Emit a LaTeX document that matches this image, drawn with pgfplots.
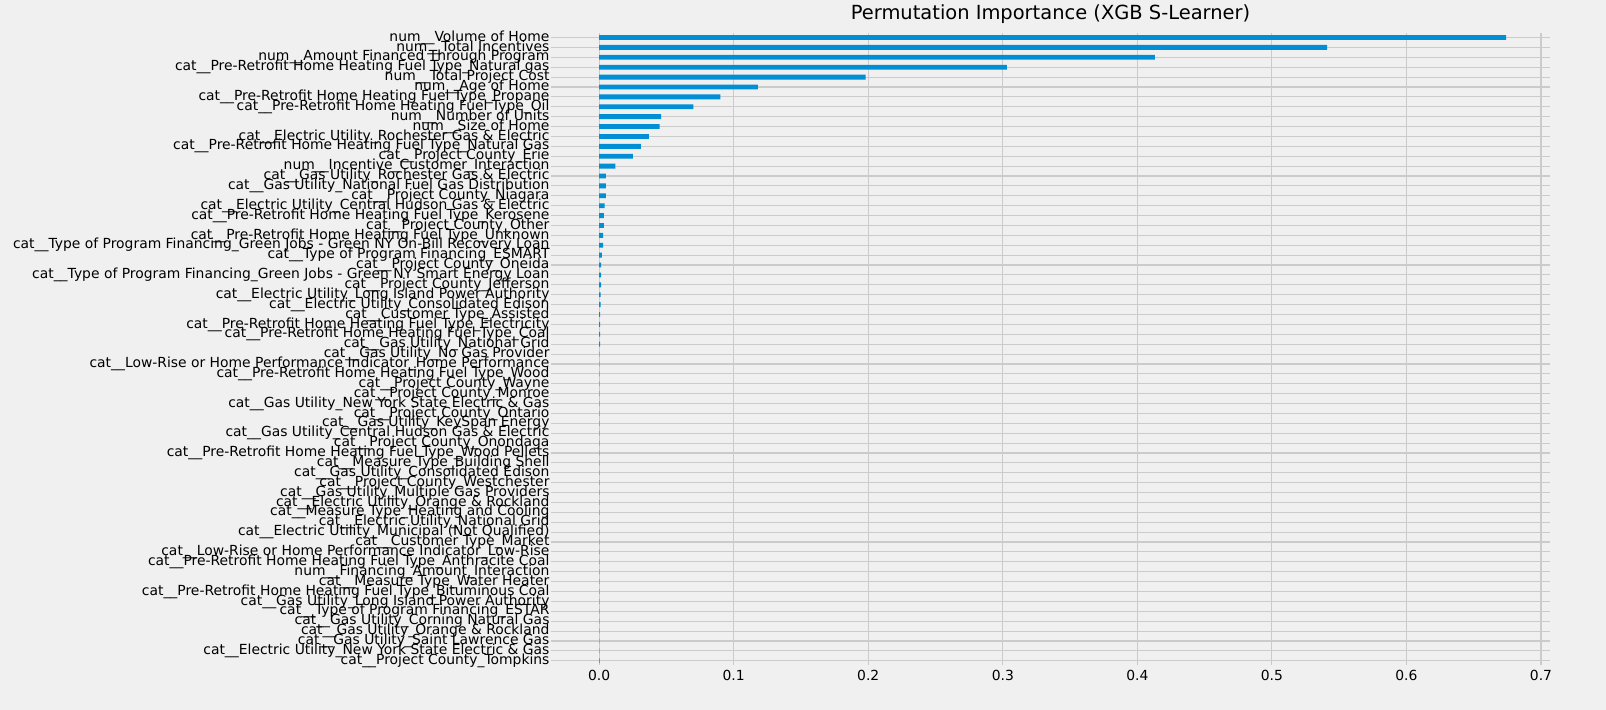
\documentclass[border=0pt]{standalone}
\usepackage{pgfplots}
\pgfplotsset{compat=1.18}
\usepackage{fontspec}
\setmainfont{DejaVu Sans}
\definecolor{bg}{HTML}{F0F0F0}
\definecolor{gridc}{HTML}{CBCBCB}
\definecolor{barc}{HTML}{008FD5}
\begin{document}
\begin{tikzpicture}
\fill[bg] (0,0) rectangle (1156pt,511pt);
\begin{axis}[at={(396.7pt,32.2pt)},anchor=south west,
 scale only axis, width=719pt, height=455pt,
 xmin=-0.0357, xmax=0.7067, ymin=-0.45, ymax=63.45, y dir=reverse,
 axis line style={draw=none}, tick style={draw=none},
 grid=both, major grid style={gridc, line width=0.8pt},
 xtick={0,0.1,...,0.7},
 /pgf/number format/assume math mode=true,
 xticklabel style={font=\fontsize{10}{12}\selectfont, /pgf/number format/.cd, fixed, fixed zerofill, precision=1},
 ytick={0,...,63},
 yticklabel style={font=\fontsize{10}{11}\selectfont, inner sep=1pt},
 yticklabels={
{num\_\_Volume of Home},{num\_\_Total Incentives},{num\_\_Amount Financed Through Program},{cat\_\_Pre-Retrofit Home Heating Fuel Type\_Natural gas},{num\_\_Total Project Cost},{num\_\_Age of Home},{cat\_\_Pre-Retrofit Home Heating Fuel Type\_Propane},{cat\_\_Pre-Retrofit Home Heating Fuel Type\_Oil},{num\_\_Number of Units},{num\_\_Size of Home},{cat\_\_Electric Utility\_Rochester Gas \& Electric},{cat\_\_Pre-Retrofit Home Heating Fuel Type\_Natural Gas},{cat\_\_Project County\_Erie},{num\_\_Incentive\_Customer\_Interaction},{cat\_\_Gas Utility\_Rochester Gas \& Electric},{cat\_\_Gas Utility\_National Fuel Gas Distribution},{cat\_\_Project County\_Niagara},{cat\_\_Electric Utility\_Central Hudson Gas \& Electric},{cat\_\_Pre-Retrofit Home Heating Fuel Type\_Kerosene},{cat\_\_Project County\_Other},{cat\_\_Pre-Retrofit Home Heating Fuel Type\_Unknown},{cat\_\_Type of Program Financing\_Green Jobs - Green NY On-Bill Recovery Loan},{cat\_\_Type of Program Financing\_ESMART},{cat\_\_Project County\_Oneida},{cat\_\_Type of Program Financing\_Green Jobs - Green NY Smart Energy Loan},{cat\_\_Project County\_Jefferson},{cat\_\_Electric Utility\_Long Island Power Authority},{cat\_\_Electric Utility\_Consolidated Edison},{cat\_\_Customer Type\_Assisted},{cat\_\_Pre-Retrofit Home Heating Fuel Type\_Electricity},{cat\_\_Pre-Retrofit Home Heating Fuel Type\_Coal},{cat\_\_Gas Utility\_National Grid},{cat\_\_Gas Utility\_No Gas Provider},{cat\_\_Low-Rise or Home Performance Indicator\_Home Performance},{cat\_\_Pre-Retrofit Home Heating Fuel Type\_Wood},{cat\_\_Project County\_Wayne},{cat\_\_Project County\_Monroe},{cat\_\_Gas Utility\_New York State Electric \& Gas},{cat\_\_Project County\_Ontario},{cat\_\_Gas Utility\_KeySpan Energy},{cat\_\_Gas Utility\_Central Hudson Gas \& Electric},{cat\_\_Project County\_Onondaga},{cat\_\_Pre-Retrofit Home Heating Fuel Type\_Wood Pellets},{cat\_\_Measure Type\_Building Shell},{cat\_\_Gas Utility\_Consolidated Edison},{cat\_\_Project County\_Westchester},{cat\_\_Gas Utility\_Multiple Gas Providers},{cat\_\_Electric Utility\_Orange \& Rockland},{cat\_\_Measure Type\_Heating and Cooling},{cat\_\_Electric Utility\_National Grid},{cat\_\_Electric Utility\_Municipal (Not Qualified)},{cat\_\_Customer Type\_Market},{cat\_\_Low-Rise or Home Performance Indicator\_Low-Rise},{cat\_\_Pre-Retrofit Home Heating Fuel Type\_Anthracite Coal},{num\_\_Financing\_Amount\_Interaction},{cat\_\_Measure Type\_Water Heater},{cat\_\_Pre-Retrofit Home Heating Fuel Type\_Bituminous Coal},{cat\_\_Gas Utility\_Long Island Power Authority},{cat\_\_Type of Program Financing\_ESTAR},{cat\_\_Gas Utility\_Corning Natural Gas},{cat\_\_Gas Utility\_Orange \& Rockland},{cat\_\_Gas Utility\_Saint Lawrence Gas},{cat\_\_Electric Utility\_New York State Electric \& Gas},{cat\_\_Project County\_Tompkins}},
 title={Permutation Importance (XGB S-Learner)},
 title style={font=\fontsize{14}{16}\selectfont, yshift=-3pt},
]
\addplot[xbar, bar width=3.5pt, fill=barc, draw=none] coordinates {
(0.674,0)(0.541,1)(0.413,2)(0.303,3)(0.198,4)(0.118,5)(0.090,6)(0.070,7)(0.046,8)(0.045,9)
(0.037,10)(0.031,11)(0.025,12)(0.012,13)(0.005,14)(0.005,15)(0.005,16)(0.004,17)(0.0035,18)(0.0035,19)
(0.003,20)(0.003,21)(0.002,22)(0.0015,23)(0.0015,24)(0.0015,25)(0.001,26)(0.001,27)(0.0008,28)(0.0008,29)
(0.0008,30)(0.0008,31)(0.0002,32)(0.0002,33)(0.0002,34)(0.0002,35)(0.0002,36)(0.0002,37)(0.0002,38)(0.0002,39)
(0.0002,40)(0.0002,41)(0.0002,42)(0.0002,43)(0.0002,44)(0.0002,45)(0.0002,46)(0.0002,47)(0.0002,48)(0.0002,49)
(0.0002,50)(0.0002,51)(0.0002,52)(0.0002,53)(0.0002,54)(0.0002,55)(0.0002,56)(0.0002,57)(0.0002,58)(0.0002,59)
(0.0002,60)(0.0002,61)(0.0002,62)(0.0003,63)};
\end{axis}
\pgfresetboundingbox
\path (0,0) rectangle (1156pt,511pt);
\end{tikzpicture}
\end{document}
